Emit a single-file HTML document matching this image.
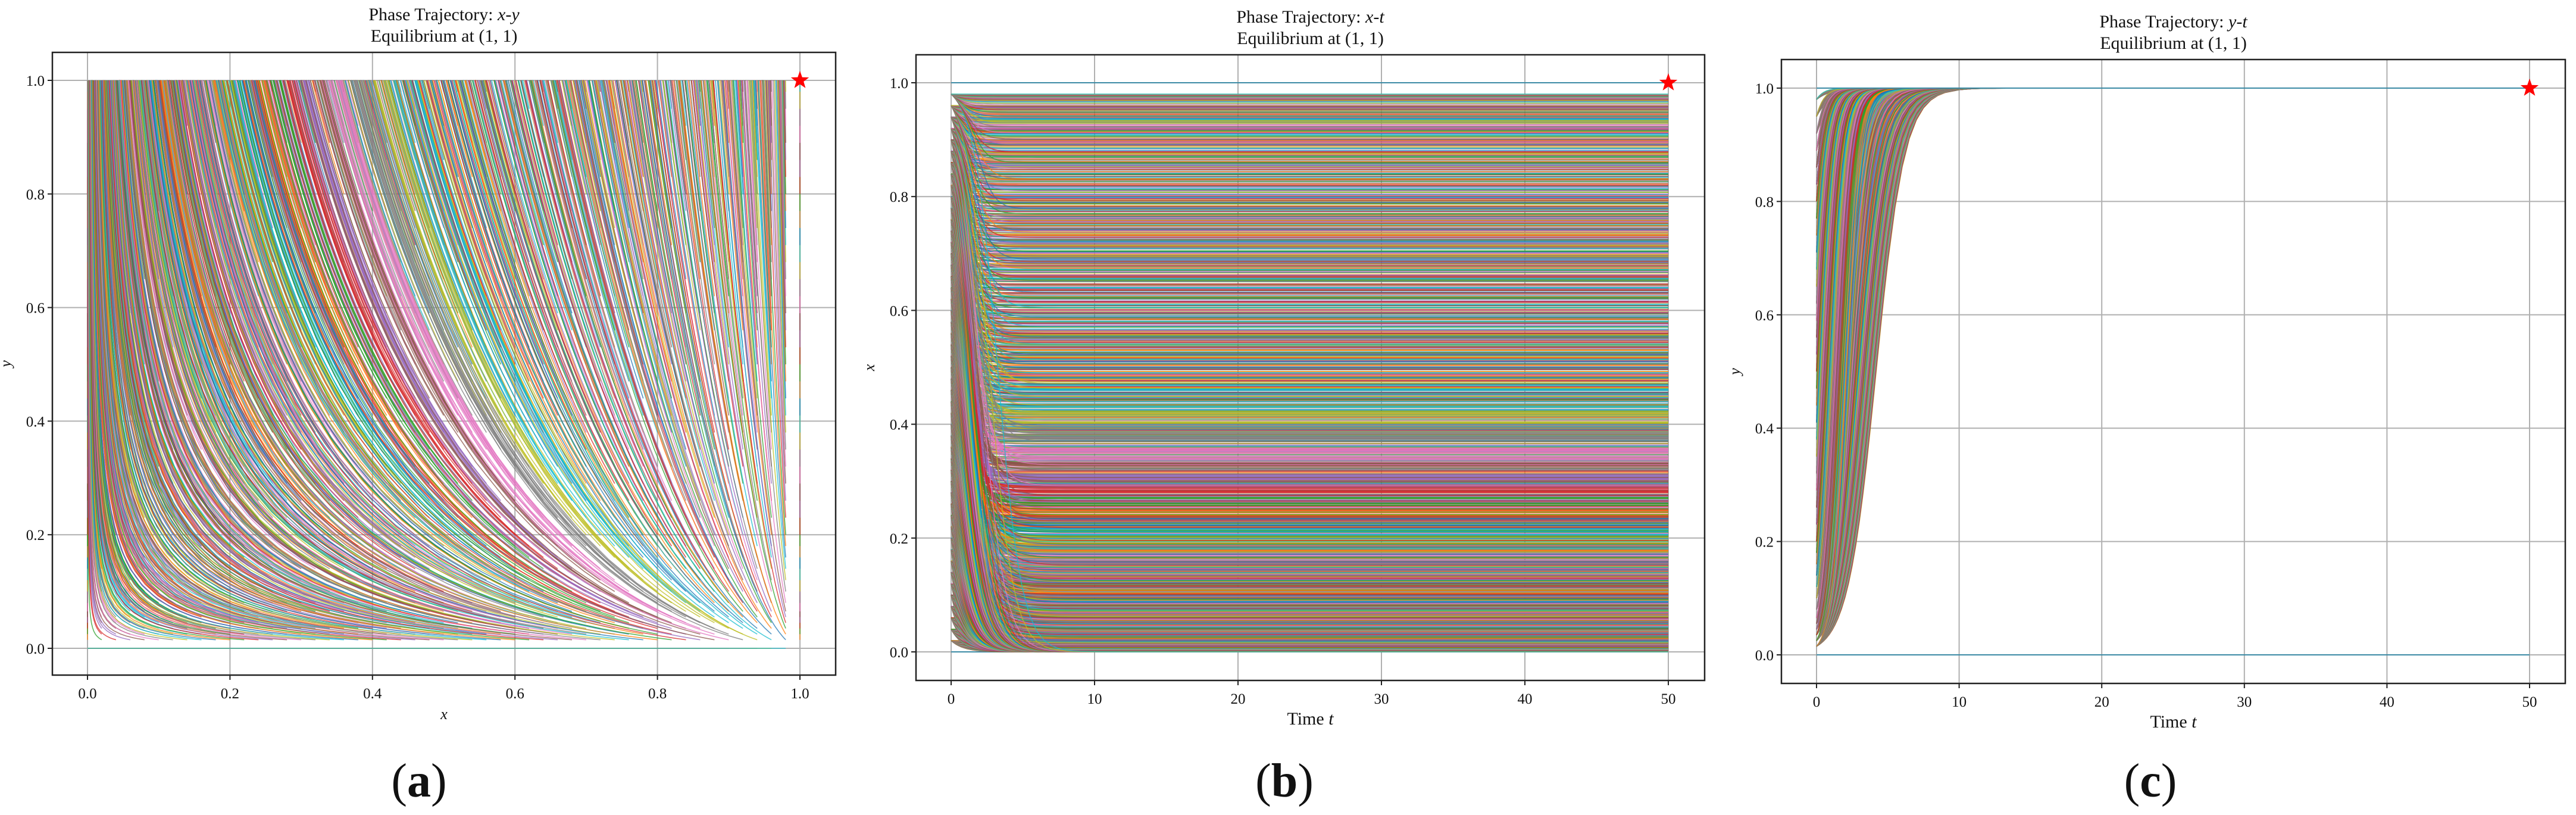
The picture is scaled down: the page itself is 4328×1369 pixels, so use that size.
<!DOCTYPE html>
<html><head><meta charset="utf-8">
<style>
html,body{margin:0;padding:0;background:#fff;}
svg{display:block;}
text{font-family:"Liberation Serif",serif;fill:#111;}
</style></head>
<body>
<svg id="fig" width="4328" height="1369" viewBox="0 0 4328 1369" xmlns="http://www.w3.org/2000/svg"></svg>
<script>
// ---- data ----
const xStarts = [0,0.02,0.04,0.06,0.08,0.1,0.12,0.14,0.16,0.18,0.2,0.22,0.24,0.26,0.28,0.3,0.32,0.34,0.36,0.38,0.4,0.42,0.44,0.46,0.48,0.5,0.52,0.54,0.56,0.58,0.6,0.62,0.64,0.66,0.68,0.7,0.72,0.74,0.76,0.78,0.8,0.82,0.84,0.86,0.88,0.9,0.92,0.94,0.96,0.98,1];
const yStarts = [0,0.015,0.025,0.035,0.045,0.055,0.065,0.08,0.1,0.12,0.14,0.16,0.18,0.2,0.23,0.26,0.29,0.32,0.35,0.38,0.41,0.44,0.47,0.5,0.53,0.56,0.59,0.62,0.65,0.68,0.71,0.74,0.77,0.8,0.83,0.86,0.89,0.92,0.95,0.98,1];
const tSamples = [0,0.1,0.2,0.35,0.5,0.7,0.9,1.1,1.3,1.5,1.75,2,2.25,2.5,2.75,3,3.25,3.5,3.75,4,4.25,4.5,4.75,5,5.5,6,6.5,7,7.5,8,8.5,9,10,11,12,14,17,22,30,40,50];
const rateY = [1.0];
const rateX = [1.2];
const equilibrium = [1, 1];
const unitTicks = ["0.0","0.2","0.4","0.6","0.8","1.0"];
const unitTickVals = [0,0.2,0.4,0.6,0.8,1.0];
const timeTicks = ["0","10","20","30","40","50"];
const timeTickVals = [0,10,20,30,40,50];
const palette = ['#1f77b4','#ff7f0e','#2ca02c','#d62728','#9467bd','#8c564b','#e377c2','#7f7f7f','#bcbd22','#17becf'];

// ---- simulation ----
function deriv(x, y){
  return [-rateX[0]*x*(1-x)*(1-y), rateY[0]*y*(1-y)*(1+x)];
}
function simulate(x0, y0){
  const out = [];
  let x = x0, y = y0, t = 0;
  const dt = 0.05;
  tSamples.forEach(ts => {
    while (t < ts - 1e-9) {
      const h = Math.min(dt, ts - t);
      const k1 = deriv(x, y);
      const k2 = deriv(x + h/2*k1[0], y + h/2*k1[1]);
      const k3 = deriv(x + h/2*k2[0], y + h/2*k2[1]);
      const k4 = deriv(x + h*k3[0], y + h*k3[1]);
      x += h/6*(k1[0]+2*k2[0]+2*k3[0]+k4[0]);
      y += h/6*(k1[1]+2*k2[1]+2*k3[1]+k4[1]);
      t += h;
      if (t > 15 && Math.abs(k1[0]) < 1e-7 && Math.abs(k1[1]) < 1e-7) t = ts;
    }
    out.push([ts, x, y]);
  });
  return out;
}
const sims = [];
xStarts.forEach(x0 => yStarts.forEach(y0 => sims.push(simulate(x0, y0))));

// ---- layout ----
const NS = "http://www.w3.org/2000/svg";
const svg = document.getElementById('fig');
function mk(tag, attrs, parent){
  const e = document.createElementNS(NS, tag);
  for (const k in attrs) e.setAttribute(k, attrs[k]);
  (parent||svg).appendChild(e);
  return e;
}
const panels = [
  {id:'a', L:88, R:1404, T:88, B:1134, x0px:147, x1px:1344, xmax:1, y0px:1089, y1px:135,
   title:['Phase Trajectory: ','x','-','y'], xlab:'x', ylab:'y', xt:unitTicks, xv:unitTickVals, label:'a', lx:704},
  {id:'b', L:1539, R:2864, T:92, B:1143, x0px:1598, x1px:2803, xmax:50, y0px:1095, y1px:139,
   title:['Phase Trajectory: ','x','-','t'], xlab:'time', ylab:'x', xt:timeTicks, xv:timeTickVals, label:'b', lx:2158},
  {id:'c', L:2993, R:4310, T:100, B:1148, x0px:3052, x1px:4250, xmax:50, y0px:1100, y1px:148,
   title:['Phase Trajectory: ','y','-','t'], xlab:'time', ylab:'y', xt:timeTicks, xv:timeTickVals, label:'c', lx:3613}
];

panels.forEach(p => {
  const g = mk('g', {});
  
  
  const sx = v => p.x0px + (p.x1px - p.x0px) * v / p.xmax;
  const sy = v => p.y0px + (p.y1px - p.y0px) * v;
  const grid = mk('g', {stroke:'#b0b0b0','stroke-width':2}, g);
  
  
  p.xv.forEach(v => mk('line', {x1:sx(v), x2:sx(v), y1:p.T, y2:p.B}, grid));
  unitTickVals.forEach(v => mk('line', {x1:p.L, x2:p.R, y1:sy(v), y2:sy(v)}, grid));
  const tr = mk('g', {fill:'none','stroke-width':1.6,'stroke-opacity':0.75}, g);
  
  
  sims.forEach((s, idx) => {
    let d = '';
    s.forEach((pt, i) => {
      let px, py;
      if (p.id === 'a') { px = sx(pt[1]); py = sy(pt[2]); }
      else if (p.id === 'b') { px = sx(pt[0]); py = sy(pt[1]); }
      else { px = sx(pt[0]); py = sy(pt[2]); }
      d += (i ? 'L' : 'M') + px.toFixed(1) + ' ' + py.toFixed(1);
    });
    const path = mk('path', {d:d, stroke:palette[idx % 10]}, tr);
    
    
  });
  const sp = mk('rect', {x:p.L, y:p.T, width:p.R-p.L, height:p.B-p.T, fill:'none', stroke:'#222','stroke-width':2.5}, g);
  
  
  const ax = mk('g', {}, g);
  
  
  p.xv.forEach((v, i) => {
    mk('line', {x1:sx(v), x2:sx(v), y1:p.B, y2:p.B+8, stroke:'#222','stroke-width':2}, ax);
    const t = mk('text', {x:sx(v), y:p.B+39, 'font-size':25, 'text-anchor':'middle'}, ax);
    t.textContent = p.xt[i];
    
    
  });
  const ay = mk('g', {}, g);
  
  
  unitTickVals.forEach((v, i) => {
    mk('line', {x1:p.L-8, x2:p.L, y1:sy(v), y2:sy(v), stroke:'#222','stroke-width':2}, ay);
    const t = mk('text', {x:p.L-13, y:sy(v)+9, 'font-size':25, 'text-anchor':'end'}, ay);
    t.textContent = unitTicks[i];
    
    
  });
  const cx = (p.L + p.R)/2;
  const xl = mk('text', {x:cx, y:p.B+74, 'font-size':p.xlab==='x'?26:30, 'text-anchor':'middle'}, g);
  
  
  if (p.xlab === 'x') { xl.setAttribute('font-style','italic'); xl.textContent = 'x'; }
  else {
    const s1 = mk('tspan', {}, xl); s1.textContent = 'Time ';
    const s2 = mk('tspan', {'font-style':'italic'}, xl); s2.textContent = 't';
  }
  const ylx = p.L - 70, yly = (p.T + p.B)/2;
  const yl = mk('text', {x:ylx, y:yly, 'font-size':26, 'font-style':'italic', 'text-anchor':'middle', transform:'rotate(-90 '+ylx+' '+yly+')'}, g);
  yl.textContent = p.ylab;
  
  
  const t1 = mk('text', {x:cx, y:p.T-54, 'font-size':30, 'text-anchor':'middle'}, g);
  
  
  p.title.forEach((s, i) => {
    const ts = mk('tspan', (i===1||i===3)?{'font-style':'italic'}:{}, t1);
    ts.textContent = s;
  });
  const t2 = mk('text', {x:cx, y:p.T-18, 'font-size':30, 'text-anchor':'middle'}, g);
  t2.textContent = 'Equilibrium at (1, 1)';
  
  
  const scx = p.id === 'a' ? sx(equilibrium[0]) : sx(50);
  const scy = sy(equilibrium[1]);
  let pts = '';
  for (let i = 0; i < 10; i++) {
    const r = i % 2 ? 6.5 : 16;
    const a = -Math.PI/2 + i*Math.PI/5;
    pts += (scx + r*Math.cos(a)).toFixed(1) + ',' + (scy + r*Math.sin(a)).toFixed(1) + ' ';
  }
  const star = mk('polygon', {points:pts, fill:'#ff0000'}, g);
  
  
  const pl = mk('text', {x:p.lx, y:1338, 'font-size':80, 'text-anchor':'middle'}, g);
  
  
  const a1 = mk('tspan', {}, pl); a1.textContent = '(';
  const a2 = mk('tspan', {'font-weight':'bold'}, pl); a2.textContent = p.label;
  const a3 = mk('tspan', {}, pl); a3.textContent = ')';
});
</script>
</body></html>
